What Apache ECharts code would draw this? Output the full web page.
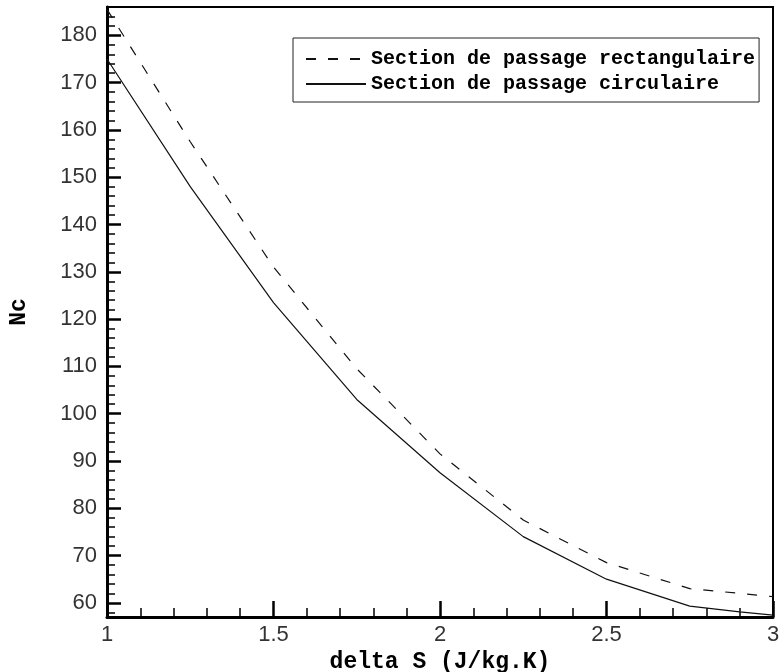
<!DOCTYPE html>
<html>
<head>
<meta charset="utf-8">
<script src="https://cdn.jsdelivr.net/npm/echarts@6/dist/echarts.min.js"></script>
<style>html,body{margin:0;padding:0;background:#fff}#c{width:779px;height:672px}</style>
</head>
<body>
<div id="c"></div>
<script>
// Data
const deltaS = [1, 1.25, 1.5, 1.75, 2, 2.25, 2.5, 2.75, 2.9, 3];
const rectangulaire = [185.5, 157.5, 131, 109.5, 91.5, 77.5, 68.5, 63, 62, 61.3];
const circulaire = [175, 148, 123.5, 103, 87.5, 74, 65, 59.3, 58.1, 57.4];
const seriesNames = ['Section de passage rectangulaire', 'Section de passage circulaire'];
const yMajorTicks = [60, 70, 80, 90, 100, 110, 120, 130, 140, 150, 160, 170, 180];
const yMinorTicks = [58, 62, 64, 66, 68, 72, 74, 76, 78, 82, 84, 86, 88, 92, 94, 96, 98, 102, 104, 106, 108, 112, 114, 116, 118, 122, 124, 126, 128, 132, 134, 136, 138, 142, 144, 146, 148, 152, 154, 156, 158, 162, 164, 166, 168, 172, 174, 176, 178, 182, 184];
const xMajorTicks = [1, 1.5, 2, 2.5, 3];
const xMinorTicks = [1.1, 1.2, 1.3, 1.4, 1.6, 1.7, 1.8, 1.9, 2.1, 2.2, 2.3, 2.4, 2.6, 2.7, 2.8, 2.9];

const chart = echarts.init(document.getElementById('c'), null, {renderer: 'canvas'});
const mono = 'Liberation Mono';
const sans = 'Liberation Sans';
const yMin = 57, yMax = 186, xMin = 1, xMax = 3;

function tickAxis(base, values, len, width) {
  return Object.assign({
    type: 'value',
    axisLine: {show: false},
    axisTick: {show: true, inside: true, length: len, customValues: values, lineStyle: {color: '#000', width: width}},
    axisLabel: {show: false},
    splitLine: {show: false}
  }, base);
}

chart.setOption({
  animation: false,
  backgroundColor: '#fff',
  grid: {left: 107, right: 6, top: 7, bottom: 55, containLabel: false, outerBoundsMode: 'none',
         show: true, borderColor: '#000', borderWidth: 2, backgroundColor: 'transparent'},
  legend: {
    orient: 'vertical',
    left: 293, top: 38,
    padding: [11, 4, 8, 12],
    itemGap: 5,
    itemWidth: 60, itemHeight: 14,
    borderColor: '#222', borderWidth: 1,
    backgroundColor: '#fff',
    itemStyle: {opacity: 0},
    textStyle: {fontFamily: mono, fontWeight: 'bold', fontSize: 20, color: '#000', lineHeight: 20},
    data: seriesNames
  },
  xAxis: [{
    type: 'value', min: xMin, max: xMax, interval: 0.5,
    name: 'delta S (J/kg.K)', nameLocation: 'middle', nameGap: 30,
    nameTextStyle: {fontFamily: mono, fontWeight: 'bold', fontSize: 23, color: '#000'},
    axisLine: {show: true, onZero: false, lineStyle: {color: '#000', width: 3}},
    axisTick: {show: false},
    axisLabel: {fontFamily: sans, fontSize: 22, color: '#333', margin: 7, customValues: xMajorTicks, formatter: v => String(v)},
    splitLine: {show: false}
  },
  tickAxis({min: xMin, max: xMax, position: 'bottom'}, xMajorTicks, 16, 2.5),
  tickAxis({min: xMin, max: xMax, position: 'bottom'}, xMinorTicks, 9, 1.5)
  ],
  yAxis: [{
    type: 'value', min: yMin, max: yMax,
    name: 'Nc', nameLocation: 'middle', nameGap: 76,
    nameTextStyle: {fontFamily: mono, fontWeight: 'bold', fontSize: 23, color: '#000'},
    axisLine: {show: true, onZero: false, lineStyle: {color: '#000', width: 3}},
    axisTick: {show: false},
    axisLabel: {fontFamily: sans, fontSize: 22, color: '#333', margin: 10, customValues: yMajorTicks},
    splitLine: {show: false}
  },
  tickAxis({min: yMin, max: yMax, position: 'left'}, yMajorTicks, 14, 2.5),
  tickAxis({min: yMin, max: yMax, position: 'left'}, yMinorTicks, 8, 1.5)
  ],
  series: [{
    name: seriesNames[0], type: 'line', symbol: 'none', smooth: false,
    data: deltaS.map((x, i) => [x, rectangulaire[i]]),
    lineStyle: {color: '#111', width: 1.2, type: [10, 12]},
    itemStyle: {color: '#111'}
  }, {
    name: seriesNames[1], type: 'line', symbol: 'none', smooth: false,
    data: deltaS.map((x, i) => [x, circulaire[i]]),
    lineStyle: {color: '#111', width: 1.2, type: 'solid'},
    itemStyle: {color: '#111'}
  }]
});
</script>
</body>
</html>
